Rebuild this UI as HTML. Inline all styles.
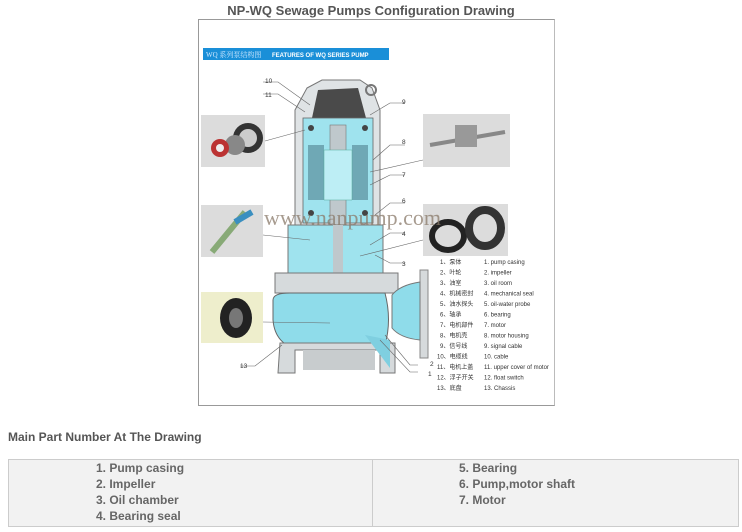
<!DOCTYPE html>
<html><head><meta charset="utf-8">
<style>
html,body{margin:0;padding:0;background:#fff;}
body{width:742px;height:532px;position:relative;overflow:hidden;font-family:"Liberation Sans",sans-serif;}
.title{position:absolute;left:0;width:742px;top:3px;text-align:center;font-weight:bold;font-size:13px;color:#555;}
.fig{position:absolute;left:198px;top:19px;width:357px;height:387px;border:1px solid #999;border-right-color:#bbb;box-sizing:border-box;background:#fff;}
.sub{position:absolute;left:8px;top:430px;font-size:12px;font-weight:bold;color:#555;}
table{position:absolute;left:8px;top:459px;width:730px;border-collapse:collapse;background:#f2f2f2;table-layout:fixed;}
td{border:1px solid #ccc;vertical-align:top;font-size:12px;font-weight:bold;color:#666;line-height:16px;padding:0;}
</style></head><body>
<div class="title">NP-WQ Sewage Pumps Configuration Drawing</div>
<div class="fig">
<svg width="357" height="387" viewBox="198 19 357 387" xmlns="http://www.w3.org/2000/svg" style="position:absolute;left:-1px;top:-1px">
<rect x="203" y="48" width="186" height="12" fill="#1a8fd8"/>
<text x="206" y="57" font-size="7" fill="#cfe8ff" font-family="Liberation Serif,Noto Serif CJK SC,serif">WQ 系列泵结构图</text>
<text x="272" y="57" font-size="6" font-weight="bold" fill="#fff">FEATURES OF WQ SERIES PUMP</text>
<rect x="201" y="115" width="64" height="52" fill="#dcdcdc"/>
<circle cx="248" cy="138" r="15" fill="#333"/><circle cx="248" cy="138" r="9" fill="#ccc"/>
<circle cx="235" cy="145" r="10" fill="#888"/><circle cx="220" cy="148" r="9" fill="#b33"/><circle cx="220" cy="148" r="4" fill="#eee"/>
<rect x="201" y="205" width="62" height="52" fill="#dcdcdc"/>
<line x1="212" y1="252" x2="245" y2="212" stroke="#8a7" stroke-width="6"/><line x1="235" y1="222" x2="252" y2="212" stroke="#3a8fc0" stroke-width="6"/>
<rect x="201" y="292" width="62" height="51" fill="#eeeecc"/>
<ellipse cx="236" cy="318" rx="16" ry="20" fill="#222"/><ellipse cx="236" cy="318" rx="7" ry="10" fill="#777"/>
<rect x="423" y="114" width="87" height="53" fill="#dcdcdc"/>
<line x1="430" y1="145" x2="505" y2="132" stroke="#888" stroke-width="4"/><rect x="455" y="125" width="22" height="22" fill="#999"/>
<rect x="423" y="204" width="85" height="52" fill="#dcdcdc"/>
<ellipse cx="448" cy="236" rx="16" ry="14" fill="none" stroke="#222" stroke-width="6"/>
<ellipse cx="485" cy="228" rx="16" ry="18" fill="none" stroke="#333" stroke-width="8"/>
<path d="M307 88 L322 80 L360 80 L372 88 L380 110 L380 225 L295 225 L295 110 Z" fill="#dfe3e5" stroke="#777" stroke-width="1"/>
<path d="M312 118 L318 90 L358 88 L366 118 Z" fill="#4a4a4a"/>
<circle cx="371" cy="90" r="5" fill="none" stroke="#777" stroke-width="2"/>
<rect x="303" y="118" width="70" height="105" fill="#9fe3ee" stroke="#666" stroke-width="0.8"/>
<rect x="308" y="145" width="16" height="55" fill="#6fa8b5"/><rect x="352" y="145" width="16" height="55" fill="#6fa8b5"/>
<rect x="330" y="125" width="16" height="140" fill="#bfc8cc" stroke="#777" stroke-width="0.6"/>
<path d="M324 150 L352 150 L352 200 L324 200 Z" fill="#bdeef5" stroke="#5a9" stroke-width="0.5"/>
<circle cx="311" cy="128" r="3" fill="#444"/><circle cx="365" cy="128" r="3" fill="#444"/>
<circle cx="311" cy="213" r="3" fill="#444"/><circle cx="365" cy="213" r="3" fill="#444"/>
<path d="M288 225 L383 225 L383 273 L288 273 Z" fill="#9fe3ee" stroke="#777"/>
<rect x="333" y="225" width="10" height="70" fill="#bfc8cc"/>
<path d="M275 273 L398 273 L398 293 L275 293 Z" fill="#d6dadc" stroke="#777"/>
<path d="M273 300 Q273 293 290 293 L385 293 Q392 320 385 345 L300 350 Q275 345 273 320 Z" fill="#8fdcea" stroke="#666"/>
<path d="M280 343 L395 343 L395 373 L380 373 L380 350 L295 350 L295 373 L278 373 Z" fill="#d6dadc" stroke="#777"/>
<rect x="303" y="350" width="72" height="20" fill="#c8ccce"/>
<path d="M365 335 L390 340 L390 368 Z" fill="#7fcfe0"/>
<rect x="420" y="270" width="8" height="88" fill="#d6dadc" stroke="#888"/>
<path d="M392 295 Q400 285 420 282 L420 340 Q400 338 392 328 Z" fill="#8fdcea" stroke="#777"/>
<g stroke="#666" stroke-width="0.6" fill="none">
<path d="M263 82 L278 82 L310 105"/><path d="M263 94 L278 94 L305 112"/>
<path d="M405 103 L390 103 L370 115"/><path d="M405 145 L390 145 L373 160"/>
<path d="M405 175 L390 175 L370 185"/><path d="M405 203 L390 203 L375 215"/>
<path d="M405 233 L390 233 L370 245"/><path d="M405 263 L390 263 L375 255"/>
<path d="M265 141 L305 130"/><path d="M423 160 L370 172"/><path d="M423 240 L360 256"/>
<path d="M263 235 L310 240"/><path d="M263 322 L330 323"/>
<path d="M240 366 L255 366 L282 345"/><path d="M418 365 L410 365 L385 335"/><path d="M418 372 L410 372 L380 340"/>
</g>
<g font-size="6.5" fill="#333">
<text x="265" y="83">10</text><text x="265" y="97">11</text><text x="402" y="104">9</text>
<text x="402" y="144">8</text><text x="402" y="177">7</text><text x="402" y="203">6</text>
<text x="402" y="236">4</text><text x="402" y="266">3</text><text x="240" y="368">13</text>
<text x="430" y="366">2</text><text x="428" y="376">1</text>
</g>
<text x="264" y="225" font-size="22" fill="#8a7a6a" fill-opacity="0.75" font-family="Liberation Serif,serif">www.nanpump.com</text>
<g font-size="6" fill="#333" font-family="Liberation Sans,Noto Sans CJK SC,sans-serif">
<text x="440" y="264">1、泵体</text><text x="484" y="264">1. pump casing</text>
<text x="440" y="274.5">2、叶轮</text><text x="484" y="274.5">2. impeller</text>
<text x="440" y="285">3、油室</text><text x="484" y="285">3. oil room</text>
<text x="440" y="295.5">4、机械密封</text><text x="484" y="295.5">4. mechanical seal</text>
<text x="440" y="306">5、油水探头</text><text x="484" y="306">5. oil-water probe</text>
<text x="440" y="316.5">6、轴承</text><text x="484" y="316.5">6. bearing</text>
<text x="440" y="327">7、电机部件</text><text x="484" y="327">7. motor</text>
<text x="440" y="337.5">8、电机壳</text><text x="484" y="337.5">8. motor housing</text>
<text x="440" y="348">9、信号线</text><text x="484" y="348">9. signal cable</text>
<text x="437" y="358.5">10、电缆线</text><text x="484" y="358.5">10. cable</text>
<text x="437" y="369">11、电机上盖</text><text x="484" y="369">11. upper cover of motor</text>
<text x="437" y="379.5">12、浮子开关</text><text x="484" y="379.5">12. float switch</text>
<text x="437" y="390">13、底盘</text><text x="484" y="390">13. Chassis</text>
</g>
</svg>
</div>
<div class="sub">Main Part Number At The Drawing</div>
<table><colgroup><col style="width:364px"><col style="width:366px"></colgroup><tr>
<td style="padding-left:87px;height:66px">1. Pump casing<br>2. Impeller<br>3. Oil chamber<br>4. Bearing seal</td>
<td style="padding-left:86px">5. Bearing<br>6. Pump,motor shaft<br>7. Motor</td>
</tr></table>
</body></html>
